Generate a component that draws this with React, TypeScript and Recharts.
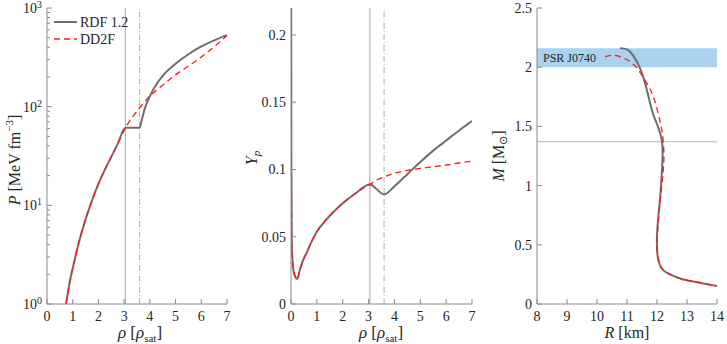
import React from 'react';
import { LineChart, Line, XAxis, YAxis, ReferenceLine, ReferenceArea } from 'recharts';

const FONT = 'Liberation Serif';
const FRAME = '#8a8a8a';
const GRAY = '#6e6e6e';
const RED = '#ff1a1a';
const REFC = '#b4b4b4';

// ---------- Panel 1: P(rho), log scale ----------
const p1RhoRDF = [0.74, 0.8, 0.9, 1.0, 1.25, 1.5, 1.75, 2.0, 2.25, 2.5, 2.75, 3.05, 3.6, 3.7, 3.8, 4.0, 4.25, 4.5, 5.0, 5.5, 6.0, 6.5, 7.0];
const p1PRDF = [1.0, 1.25, 1.75, 2.3, 4.3, 7.2, 11.2, 16.5, 23, 31, 42, 61, 61, 76, 95, 128, 168, 205, 272, 340, 408, 470, 532];
const p1RhoDD2F = [0.74, 0.8, 0.9, 1.0, 1.25, 1.5, 1.75, 2.0, 2.25, 2.5, 2.75, 3.05, 3.3, 3.6, 4.0, 4.5, 5.0, 5.5, 6.0, 6.5, 7.0];
const p1PDD2F = [1.0, 1.25, 1.75, 2.3, 4.3, 7.2, 11.2, 16.5, 23, 31, 42, 61, 77, 97, 128, 165, 210, 258, 318, 405, 525];
const p1XTicks = [0, 1, 2, 3, 4, 5, 6, 7];
const p1YTicks = [1, 2, 3, 4, 5, 6, 7, 8, 9, 10, 20, 30, 40, 50, 60, 70, 80, 90, 100, 200, 300, 400, 500, 600, 700, 800, 900, 1000];
const p1YMajor = [1, 10, 100, 1000];

// ---------- Panel 2: Yp(rho) ----------
const p2RhoRDF = [0, 0.005, 0.015, 0.03, 0.06, 0.09, 0.15, 0.24, 0.35, 0.5, 0.6, 0.75, 1.0, 1.25, 1.5, 1.75, 2.0, 2.5, 3.05, 3.6, 4.0, 4.5, 5.0, 5.5, 6.0, 6.5, 7.0];
const p2YpRDF = [0.5, 0.25, 0.1, 0.045, 0.032, 0.026, 0.021, 0.0186, 0.026, 0.034, 0.0378, 0.0445, 0.0537, 0.0602, 0.0656, 0.0704, 0.0748, 0.0823, 0.0889, 0.0815, 0.0875, 0.0965, 0.1055, 0.114, 0.1215, 0.129, 0.136];
const p2RhoDD2F = [0, 0.005, 0.015, 0.03, 0.06, 0.09, 0.15, 0.24, 0.35, 0.5, 0.6, 0.75, 1.0, 1.25, 1.5, 1.75, 2.0, 2.5, 3.05, 3.3, 3.6, 4.0, 4.5, 5.0, 5.5, 6.0, 6.5, 7.0];
const p2YpDD2F = [0.5, 0.25, 0.1, 0.045, 0.032, 0.026, 0.021, 0.0186, 0.026, 0.034, 0.0378, 0.0445, 0.0537, 0.0602, 0.0656, 0.0704, 0.0748, 0.0823, 0.0889, 0.092, 0.0945, 0.0972, 0.0993, 0.1008, 0.102, 0.1033, 0.1048, 0.1062];
const p2XTicks = [0, 1, 2, 3, 4, 5, 6, 7];
const p2YTicks = [0, 0.05, 0.1, 0.15, 0.2];
const p2YLabels = ['0', '0.05', '0.1', '0.15', '0.2'];

// ---------- Panel 3: M(R) ----------
const p3RRDF = [10.77, 11.0, 11.2, 11.4, 11.55, 11.7, 11.85, 12.0, 12.16, 12.18, 12.12, 12.05, 12.0, 12.0, 12.03, 12.16, 12.4, 12.7, 13.0, 13.5, 14.0];
const p3MRDF = [2.16, 2.15, 2.1, 2.01, 1.91, 1.77, 1.62, 1.52, 1.385, 1.2, 0.95, 0.75, 0.58, 0.48, 0.39, 0.3, 0.255, 0.222, 0.2, 0.176, 0.152];
const p3RDD2F = [10.27, 10.6, 10.9, 11.2, 11.45, 11.65, 11.85, 12.0, 12.12, 12.2, 12.23, 12.2, 12.12, 12.05, 12.01, 12.0, 12.04, 12.16, 12.4, 12.7, 13.0, 13.5, 14.0];
const p3MDD2F = [2.09, 2.1, 2.075, 2.03, 1.95, 1.87, 1.77, 1.65, 1.52, 1.4, 1.25, 1.1, 0.9, 0.72, 0.57, 0.47, 0.38, 0.3, 0.255, 0.222, 0.2, 0.176, 0.152];
const p3XTicks = [8, 9, 10, 11, 12, 13, 14];
const p3YTicks = [0, 0.5, 1, 1.5, 2, 2.5];
const p3YLabels = ['0', '0.5', '1', '1.5', '2', '2.5'];
const psrBand = [2.0, 2.16];
const refMass = 1.37;
const p12Transitions = [3.05, 3.6];

const zip = (xs: number[], ys: number[]) => xs.map((x, i) => ({ x, y: ys[i] }));

const txtStyle = { fontFamily: FONT, fontSize: 14, fill: '#262626' } as const;

const LeftTick = (fmt: (v: number) => React.ReactNode, isMajor: (v: number) => boolean) => (p: any) => {
  const { x, y, payload } = p;
  const major = isMajor(payload.value);
  return (
    <g>
      <line x1={x} x2={x + (major ? 5 : 3)} y1={y} y2={y} stroke={FRAME} />
      {major && (
        <text x={x - 5} y={y + 5} textAnchor="end" style={txtStyle}>{fmt(payload.value)}</text>
      )}
    </g>
  );
};
const RightTick = (isMajor: (v: number) => boolean) => (p: any) => {
  const { x, y, payload } = p;
  const major = isMajor(payload.value);
  return <line x1={x} x2={x - (major ? 5 : 3)} y1={y} y2={y} stroke={FRAME} />;
};
const BottomTick = (p: any) => {
  const { x, y, payload } = p;
  return (
    <g>
      <line x1={x} x2={x} y1={y} y2={y - 5} stroke={FRAME} />
      <text x={x} y={y + 17} textAnchor="middle" style={txtStyle}>{String(payload.value)}</text>
    </g>
  );
};
const TopTick = (p: any) => {
  const { x, y } = p;
  return <line x1={x} x2={x} y1={y} y2={y + 5} stroke={FRAME} />;
};

const logFmt = (v: number) => {
  const k = Math.round(Math.log10(v));
  return (
    <>
      10<tspan dy={-5} style={{ fontSize: 10 }}>{k}</tspan>
    </>
  );
};
const isPow10 = (v: number) => p1YMajor.includes(v);
const always = () => true;

const Frame = ({ xDomain, xTicks, yDomain, yTicks, yScale, leftTick, rightTick }: any) => [
  <XAxis key="xb" xAxisId="b" dataKey="x" type="number" domain={xDomain} ticks={xTicks} interval={0}
    height={40} tickSize={0} tickMargin={0} tickLine={false} stroke={FRAME} tick={BottomTick} allowDataOverflow />,
  <XAxis key="xt" xAxisId="t" orientation="top" type="number" domain={xDomain} ticks={xTicks} interval={0}
    height={0} tickSize={0} tickMargin={0} tickLine={false} stroke={FRAME} tick={TopTick} allowDataOverflow />,
  <YAxis key="yl" yAxisId="l" type="number" scale={yScale} domain={yDomain} ticks={yTicks} interval={0}
    width={47} tickSize={0} tickMargin={0} tickLine={false} stroke={FRAME} tick={leftTick} allowDataOverflow />,
  <YAxis key="yr" yAxisId="r" orientation="right" type="number" scale={yScale} domain={yDomain} ticks={yTicks} interval={0}
    width={0} tickSize={0} tickMargin={0} tickLine={false} stroke={FRAME} tick={rightTick} allowDataOverflow />,
];

const t15 = { fontFamily: FONT, fontSize: 15, fill: '#262626' } as const;
const sub = { fontSize: 11 } as const;
const it = { fontStyle: 'italic' } as const;

export default function App() {
  const H = 344;
  return (
    <div style={{ position: 'absolute', left: 0, top: 0, width: 727, height: H, background: '#fff', fontFamily: FONT }}>
      {/* Panel 1 */}
      <div style={{ position: 'absolute', left: 0, top: 0 }}>
        <LineChart width={240} height={H} margin={{ top: 8, right: 13, bottom: 0, left: 0 }}>
          {Frame({ xDomain: [0, 7], xTicks: p1XTicks, yDomain: [1, 1000], yTicks: p1YTicks, yScale: 'log',
            leftTick: LeftTick(logFmt, isPow10), rightTick: RightTick(isPow10) })}
          <ReferenceLine xAxisId="b" yAxisId="l" x={p12Transitions[0]} stroke={REFC} strokeWidth={1.2} />
          <ReferenceLine xAxisId="b" yAxisId="l" x={p12Transitions[1]} stroke={REFC} strokeWidth={1} strokeDasharray="6 2 1 2" />
          <Line xAxisId="b" yAxisId="l" data={zip(p1RhoRDF, p1PRDF)} dataKey="y" type="monotone" stroke={GRAY} strokeWidth={2} dot={false} isAnimationActive={false} />
          <Line xAxisId="b" yAxisId="l" data={zip(p1RhoDD2F, p1PDD2F)} dataKey="y" type="monotone" stroke={RED} strokeWidth={1.3} strokeDasharray="6 4" dot={false} isAnimationActive={false} />
        </LineChart>
      </div>
      {/* Panel 2 */}
      <div style={{ position: 'absolute', left: 244, top: 0 }}>
        <LineChart width={240} height={H} margin={{ top: 8, right: 12, bottom: 0, left: 0 }}>
          {Frame({ xDomain: [0, 7], xTicks: p2XTicks, yDomain: [0, 0.22], yTicks: p2YTicks, yScale: 'linear',
            leftTick: LeftTick((v) => p2YLabels[p2YTicks.indexOf(v)], always), rightTick: RightTick(always) })}
          <ReferenceLine xAxisId="b" yAxisId="l" x={p12Transitions[0]} stroke={REFC} strokeWidth={1.2} />
          <ReferenceLine xAxisId="b" yAxisId="l" x={p12Transitions[1]} stroke={REFC} strokeWidth={1} strokeDasharray="6 2 1 2" />
          <Line xAxisId="b" yAxisId="l" data={zip(p2RhoRDF, p2YpRDF)} dataKey="y" type="monotone" stroke={GRAY} strokeWidth={2} dot={false} isAnimationActive={false} />
          <Line xAxisId="b" yAxisId="l" data={zip(p2RhoDD2F, p2YpDD2F)} dataKey="y" type="monotone" stroke={RED} strokeWidth={1.3} strokeDasharray="6 4" dot={false} isAnimationActive={false} />
        </LineChart>
      </div>
      {/* Panel 3 */}
      <div style={{ position: 'absolute', left: 490, top: 0 }}>
        <LineChart width={237} height={H} margin={{ top: 8, right: 10, bottom: 0, left: 0 }}>
          {Frame({ xDomain: [8, 14], xTicks: p3XTicks, yDomain: [0, 2.5], yTicks: p3YTicks, yScale: 'linear',
            leftTick: LeftTick((v) => p3YLabels[p3YTicks.indexOf(v)], always), rightTick: RightTick(always) })}
          <ReferenceArea xAxisId="b" yAxisId="l" x1={8} x2={14} y1={psrBand[0]} y2={psrBand[1]} fill="#a9d3f0" fillOpacity={1} stroke="none" />
          <ReferenceLine xAxisId="b" yAxisId="l" y={refMass} stroke={REFC} strokeWidth={1} />
          <Line xAxisId="b" yAxisId="l" data={zip(p3RRDF, p3MRDF)} dataKey="y" type="natural" stroke={GRAY} strokeWidth={2} dot={false} isAnimationActive={false} />
          <Line xAxisId="b" yAxisId="l" data={zip(p3RDD2F, p3MDD2F)} dataKey="y" type="natural" stroke={RED} strokeWidth={1.3} strokeDasharray="6 4" dot={false} isAnimationActive={false} />
        </LineChart>
      </div>
      {/* Titles, legend, annotation */}
      <svg width={727} height={H} style={{ position: 'absolute', left: 0, top: 0, pointerEvents: 'none' }}>
        {/* Legend */}
        <line x1={54} x2={77} y1={22} y2={22} stroke={GRAY} strokeWidth={2} />
        <text x={80} y={27} style={{ ...t15, fontSize: 14 }}>RDF 1.2</text>
        <line x1={54} x2={77} y1={39} y2={39} stroke={RED} strokeWidth={1.3} strokeDasharray="6 4" />
        <text x={80} y={44} style={{ ...t15, fontSize: 14 }}>DD2F</text>
        {/* x titles */}
        <text x={140} y={338} textAnchor="middle" style={{ ...t15, fontSize: 17 }}>
          <tspan style={it}>ρ</tspan>{'  ['}<tspan style={it}>ρ</tspan><tspan style={sub} dy={4}>sat</tspan><tspan dy={-4}>]</tspan>
        </text>
        <text x={381} y={338} textAnchor="middle" style={{ ...t15, fontSize: 17 }}>
          <tspan style={it}>ρ</tspan>{'  ['}<tspan style={it}>ρ</tspan><tspan style={sub} dy={4}>sat</tspan><tspan dy={-4}>]</tspan>
        </text>
        <text x={627} y={338} textAnchor="middle" style={{ ...t15, fontSize: 16 }}>
          <tspan style={it}>R</tspan>{'  [km]'}
        </text>
        {/* y titles */}
        <text transform="translate(20,160) rotate(-90)" textAnchor="middle" style={{ ...t15, fontSize: 16 }}>
          <tspan style={it}>P</tspan>{'  [MeV fm'}<tspan style={sub} dy={-7}>−3</tspan><tspan dy={7}>]</tspan>
        </text>
        <text transform="translate(257,158) rotate(-90)" textAnchor="middle" style={{ ...t15, fontSize: 16 }}>
          <tspan style={it}>Y</tspan><tspan style={{ ...it, ...sub }} dy={3}>p</tspan>
        </text>
        <text transform="translate(504,156) rotate(-90)" textAnchor="middle" style={{ ...t15, fontSize: 16 }}>
          <tspan style={it}>M</tspan>{'  [M'}<tspan style={sub} dy={3}>⊙</tspan><tspan dy={-3}>]</tspan>
        </text>
        {/* PSR label */}
        <text x={543} y={62} style={{ ...t15, fontSize: 12 }}>PSR J0740</text>
      </svg>
    </div>
  );
}
